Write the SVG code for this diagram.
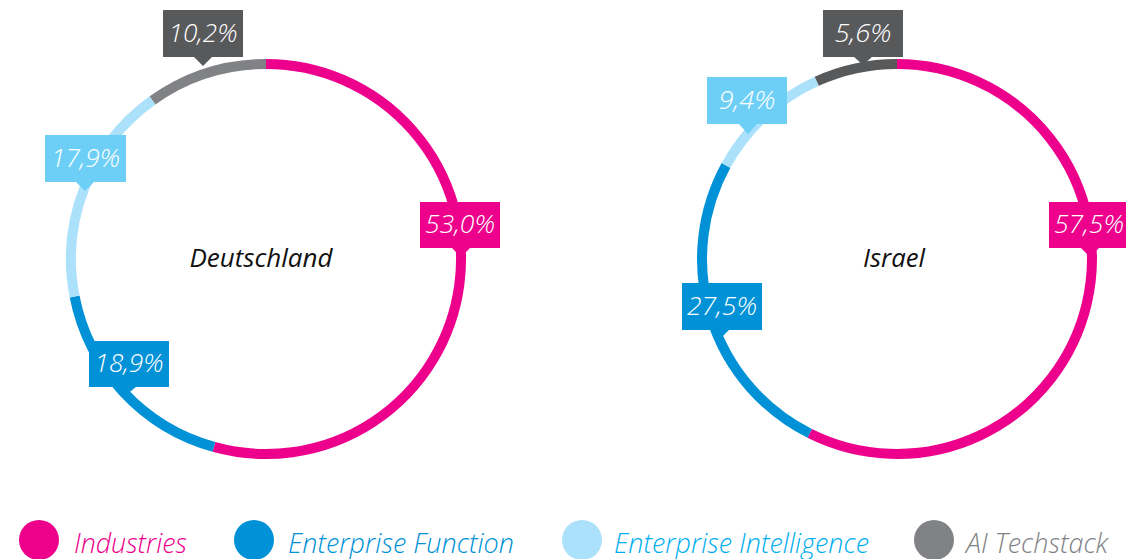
<svg xmlns="http://www.w3.org/2000/svg" width="1126" height="559" viewBox="0 0 1126 559">
<style>
.ring{fill:none;stroke-width:10;stroke-linecap:butt}
.pink{stroke:#ec008c}.blue{stroke:#0091d6}.light{stroke:#abe1fa}.grey{stroke:#808285}.dgrey{stroke:#58595b}
.lbl{font-family:"Open Sans","Liberation Sans",sans-serif;font-style:italic;font-weight:300;font-size:26px;fill:#ffffff;text-anchor:middle}
.ctr{font-family:"Open Sans","Liberation Sans",sans-serif;font-style:italic;font-size:25px;fill:#111111;text-anchor:middle}
.leg{font-family:"Open Sans","Liberation Sans",sans-serif;font-style:italic;font-weight:300;font-size:27px}
</style>
<rect width="1126" height="559" fill="#ffffff"/>
<g id="connectors">
<path class="ring pink" d="M266,64 A195,195 0 1 1 213.9,446.9"/>
<path class="ring blue" d="M213.9,446.9 A195,195 0 0 1 74.6,296.5"/>
<path class="ring light" d="M74.6,296.5 A195,195 0 0 1 152.5,100.4"/>
<path class="ring grey" d="M152.5,100.4 A195,195 0 0 1 266,64"/>
<path class="ring pink" d="M897,64 A195,195 0 1 1 809.7,433.4"/>
<path class="ring blue" d="M809.7,433.4 A195,195 0 0 1 726,165.4"/>
<path class="ring light" d="M726,165.4 A195,195 0 0 1 816.8,81.3"/>
<path class="ring dgrey" d="M816.8,81.3 A195,195 0 0 1 897,64"/>
</g>
<g id="de-center"><text class="ctr" x="261" y="267" textLength="143" lengthAdjust="spacingAndGlyphs">Deutschland</text></g>
<g id="il-center"><text class="ctr" x="894" y="267" textLength="62" lengthAdjust="spacingAndGlyphs">Israel</text></g>
<g id="de-ai">
<rect x="163" y="10" width="80" height="47" fill="#58595b"/>
<path d="M193,56 L213,56 L203,66 Z" fill="#58595b"/>
<text class="lbl" x="203" y="42" textLength="69" lengthAdjust="spacingAndGlyphs">10,2%</text>
</g>
<g id="de-ei">
<rect x="45" y="135" width="81" height="47" fill="#6dcff6"/>
<path d="M75,181 L95,181 L85,191 Z" fill="#6dcff6"/>
<text class="lbl" x="85.5" y="167" textLength="69" lengthAdjust="spacingAndGlyphs">17,9%</text>
</g>
<g id="de-ind">
<rect x="420" y="202" width="80" height="46" fill="#ec008c"/>
<path d="M451,247 L471,247 L461,257 Z" fill="#ec008c"/>
<text class="lbl" x="460" y="233" textLength="70" lengthAdjust="spacingAndGlyphs">53,0%</text>
</g>
<g id="de-ef">
<rect x="89" y="341" width="80" height="46" fill="#0091d6"/>
<path d="M115,386 L137,386 L125,396 Z" fill="#0091d6"/>
<text class="lbl" x="129" y="372" textLength="69" lengthAdjust="spacingAndGlyphs">18,9%</text>
</g>
<g id="il-ai">
<rect x="823" y="10" width="80" height="47" fill="#58595b"/>
<path d="M853,56 L873,56 L863,65 Z" fill="#58595b"/>
<text class="lbl" x="863" y="42" textLength="57" lengthAdjust="spacingAndGlyphs">5,6%</text>
</g>
<g id="il-ei">
<rect x="707" y="77" width="80" height="47" fill="#6dcff6"/>
<path d="M738,123 L758,123 L748,134 Z" fill="#6dcff6"/>
<text class="lbl" x="747" y="109" textLength="57" lengthAdjust="spacingAndGlyphs">9,4%</text>
</g>
<g id="il-ind">
<rect x="1049" y="202" width="80" height="46" fill="#ec008c"/>
<path d="M1080,247 L1100,247 L1090,257 Z" fill="#ec008c"/>
<text class="lbl" x="1089" y="233" textLength="70" lengthAdjust="spacingAndGlyphs">57,5%</text>
</g>
<g id="il-ef">
<rect x="682" y="283" width="80" height="47" fill="#0091d6"/>
<path d="M710,329 L730,329 L720,339 Z" fill="#0091d6"/>
<text class="lbl" x="722" y="315" textLength="70" lengthAdjust="spacingAndGlyphs">27,5%</text>
</g>
<g id="legend">
<circle cx="39" cy="540" r="20" fill="#ec008c"/>
<text class="leg" x="74" y="553" fill="#ec008c" textLength="113" lengthAdjust="spacingAndGlyphs">Industries</text>
<circle cx="254" cy="540" r="20" fill="#0091d6"/>
<text class="leg" x="288" y="553" fill="#0091d6" textLength="226" lengthAdjust="spacingAndGlyphs">Enterprise Function</text>
<circle cx="582" cy="540" r="20" fill="#abe1fa"/>
<text class="leg" x="614" y="553" fill="#00aeef" textLength="255" lengthAdjust="spacingAndGlyphs">Enterprise Intelligence</text>
<circle cx="934" cy="540" r="20" fill="#808285"/>
<text class="leg" x="966" y="553" fill="#808285" textLength="142" lengthAdjust="spacingAndGlyphs">AI Techstack</text>
</g>
</svg>
